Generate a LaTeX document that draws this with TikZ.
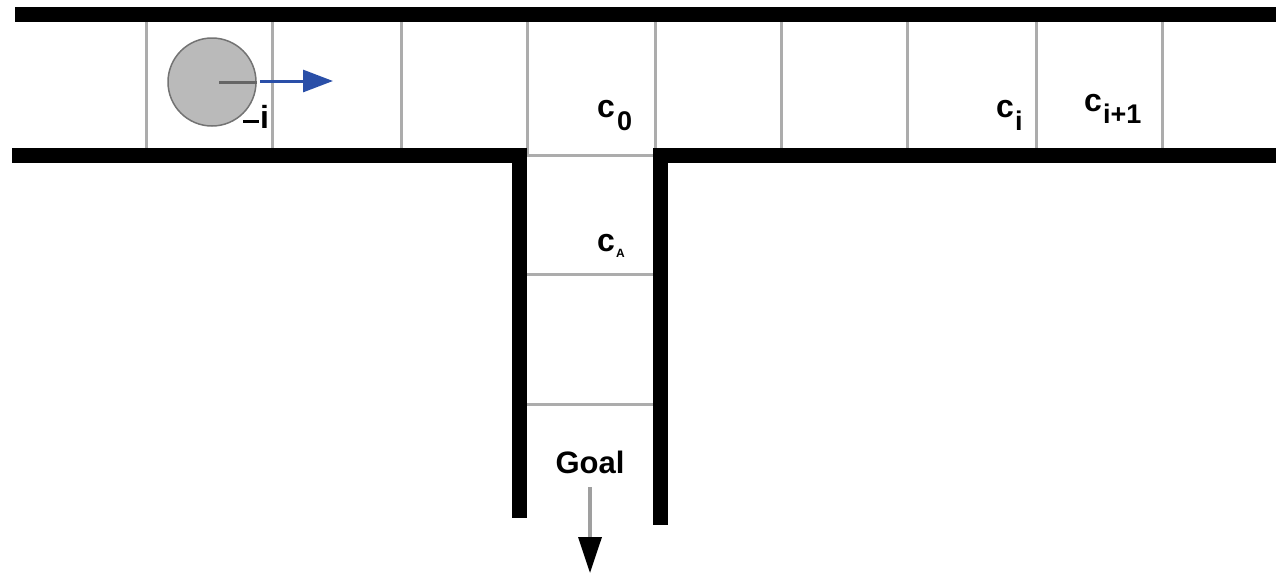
\documentclass[tikz,border=0pt]{standalone}
\usepackage{fontspec}
\setmainfont{Liberation Sans}
\usetikzlibrary{arrows.meta}
\newcommand{\subtxt}[2]{\raisebox{#1}{\fontsize{27}{29}\selectfont #2}}
\begin{document}
\begin{tikzpicture}[x=1pt,y=-1pt,
  wall/.style={line width=15pt, black},
  grid/.style={line width=3pt, gray!65},
  lbl/.style={font=\fontsize{32}{34}\selectfont\bfseries, inner sep=0pt},
  goalarrow/.style={line width=3.5pt, gray!75, -{Triangle[length=36pt,width=23pt,fill=black,color=black]}},
  moveto/.style={line width=3pt, -{Triangle[length=30pt,width=22pt]}}]
\definecolor{agentblue}{RGB}{42,79,168}
\useasboundingbox (0,0) rectangle (1276,574);
% grid lines in corridor
\foreach \x in {146,272,401,527,655,781,907,1036,1162}
  \draw[grid] (\x,14) -- (\x,155);
\draw[grid] (527,155) -- (655,155);
% shaft grid lines
\draw[grid] (527,274) -- (653,274);
\draw[grid] (527,404) -- (653,404);
% walls
\draw[wall] (15,14.5) -- (1276,14.5);
\draw[wall] (12,155.5) -- (527,155.5);
\draw[wall] (653,155.5) -- (1276,155.5);
\draw[wall] (519.5,148) -- (519.5,518);
\draw[wall] (660.5,148) -- (660.5,525);
% agent
\node[circle, draw=black!55, line width=1.5pt, fill=black!27, minimum size=88pt, inner sep=0pt] (agent) at (212,82) {};
\draw[line width=3pt, black!60] (agent.center) ++(7,0) -- (agent.east);
\coordinate (dir) at (333,81);
\draw[moveto, agentblue] (260,81) -- (dir);
% labels
\node[lbl] (li) at (256,117) {\rule[0.35ex]{16pt}{3pt}\kern1pt i};
\node[lbl, anchor=south west] (c0) at (597,131) {c\kern2pt\subtxt{-0.8ex}{0}};
\node[lbl, anchor=south west] (ci) at (996,131) {c\kern1pt\subtxt{-0.8ex}{i}};
\node[lbl, anchor=south west] (ci1) at (1084,124) {c\kern1pt\subtxt{-0.7ex}{i+1}};
\node[lbl, anchor=south west] (ca) at (597,258) {c\kern1pt\raisebox{-0.35ex}{\fontsize{12}{13}\selectfont A}};
\node[lbl, font=\fontsize{31}{33}\selectfont\bfseries] (goal) at (590,462) {Goal};
\coordinate (goalend) at (590,573);
\draw[goalarrow] (590,487) -- (goalend);
\end{tikzpicture}
\end{document}
